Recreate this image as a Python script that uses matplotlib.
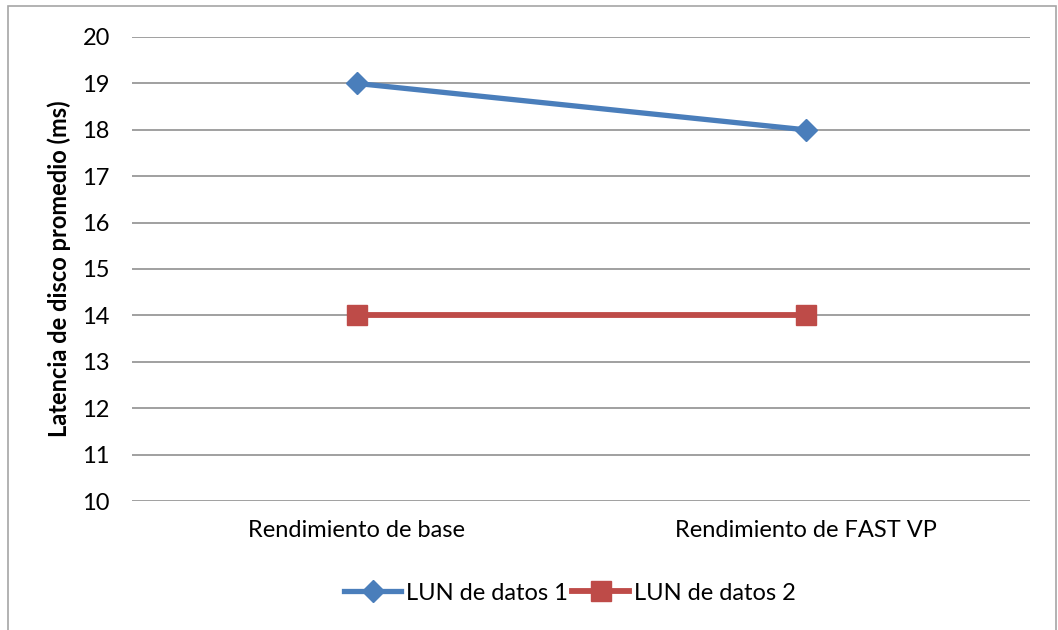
import matplotlib.pyplot as plt
from matplotlib.patches import Rectangle

# Average disk latency per LUN, before and after FAST VP
categories = ["Rendimiento de base", "Rendimiento de FAST VP"]
lun1 = [19, 18]
lun2 = [14, 14]
series_names = ["LUN de datos 1", "LUN de datos 2"]
y_ticks = list(range(10, 21))

plt.rcParams["font.family"] = ["Lato", "DejaVu Sans"]
FS = 17

fig = plt.figure(figsize=(10.58, 6.30), dpi=100)
ax = fig.add_axes([132 / 1058, 1 - 501 / 630, 898 / 1058, 464 / 630])

# outer chart border
fig.patches.append(Rectangle((8 / 1058, -0.01), 1048 / 1058, 1 - 6 / 630 + 0.01,
                             transform=fig.transFigure, fill=False,
                             edgecolor="#a6a6a6", linewidth=1.2))

x = range(len(categories))
ax.plot(x, lun1, color="#4a7ebb", linewidth=3.8, marker="D", markersize=11,
        label=series_names[0], zorder=3)
ax.plot(x, lun2, color="#be4b48", linewidth=4.2, marker="s", markersize=14,
        label=series_names[1], zorder=3)

ax.set_xlim(-0.5, 1.5)
ax.set_ylim(10, 20)
ax.set_yticks(y_ticks)
ax.set_xticks(list(x))
ax.set_xticklabels(categories, fontsize=FS)
ax.tick_params(axis="y", labelsize=FS, length=0, pad=16)
ax.tick_params(axis="x", length=0, pad=14)
ax.yaxis.grid(True, color="#999999", linewidth=1.3)
ax.set_axisbelow(True)
for s in ax.spines.values():
    s.set_visible(False)

ax.set_ylabel("Latencia de disco promedio (ms)", fontsize=FS, fontweight="bold",
              labelpad=8)

fig.legend(loc="center", bbox_to_anchor=(570 / 1058, 1 - 593 / 630), ncol=2,
           frameon=False, fontsize=FS, handlelength=2.4, columnspacing=0.2,
           handletextpad=0.2)

fig.savefig("out.png", dpi=100)
